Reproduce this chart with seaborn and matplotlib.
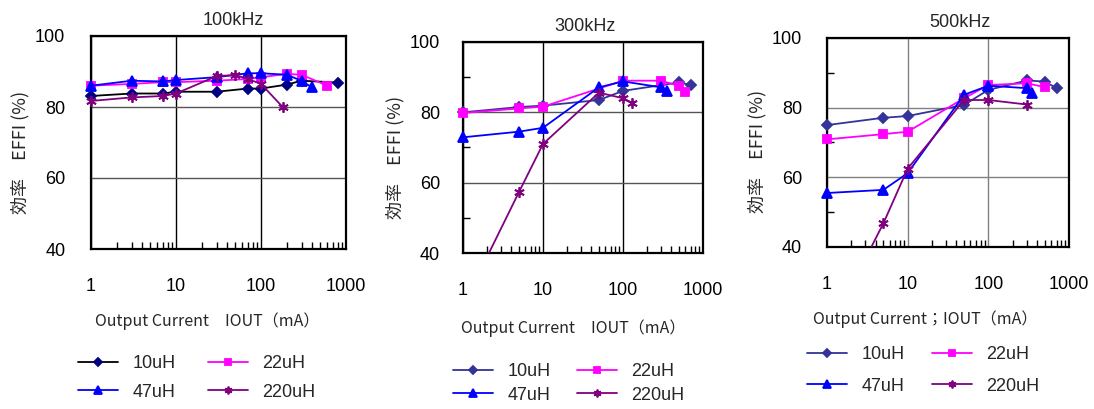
import numpy as np
import pandas as pd
import matplotlib
matplotlib.use('Agg')
import matplotlib.pyplot as plt
from matplotlib.ticker import FixedLocator, LogLocator, NullFormatter
import seaborn as sns

# ---- data ----
inductors = ['10uH', '22uH', '47uH', '220uH']
titles = ['100kHz', '300kHz', '500kHz']

# 100kHz
iout_100k_10uH = [1, 3, 7, 10, 30, 70, 100, 200, 300, 800]
eff_100k_10uH = [83.1, 83.8, 83.8, 84.3, 84.3, 85.2, 85.2, 86.3, 87.4, 86.9]
iout_100k_22uH = [1, 3, 7, 10, 30, 70, 100, 200, 300, 600]
eff_100k_22uH = [86.0, 86.5, 87.0, 87.0, 87.4, 87.9, 88.4, 89.3, 89.1, 86.0]
iout_100k_47uH = [1, 3, 7, 10, 30, 70, 100, 200, 300, 400]
eff_100k_47uH = [86.0, 87.4, 87.2, 87.6, 88.4, 89.5, 89.5, 89.1, 87.4, 85.5]
iout_100k_220uH = [1, 3, 7, 10, 30, 50, 70, 100, 180]
eff_100k_220uH = [81.7, 82.7, 83.1, 83.8, 88.7, 89.0, 87.9, 86.5, 80.0]

# 300kHz
iout_300k_10uH = [1, 5, 10, 50, 100, 500, 700]
eff_300k_10uH = [80.0, 81.5, 81.9, 83.5, 86.1, 88.5, 87.8]
iout_300k_22uH = [1, 5, 10, 100, 300, 500, 600]
eff_300k_22uH = [79.8, 81.1, 81.6, 89.0, 89.0, 87.5, 85.9]
iout_300k_47uH = [1, 5, 10, 50, 100, 300, 350]
eff_300k_47uH = [72.9, 74.5, 75.6, 87.1, 88.8, 87.1, 86.1]
iout_300k_220uH = [1, 5, 10, 50, 100, 130]
eff_300k_220uH = [25.0, 57.3, 71.0, 85.6, 84.0, 82.6]

# 500kHz
iout_500k_10uH = [1, 5, 10, 50, 100, 300, 500, 700]
eff_500k_10uH = [75.0, 77.1, 77.6, 80.8, 85.1, 87.8, 87.5, 85.6]
iout_500k_22uH = [1, 5, 10, 50, 100, 300, 500]
eff_500k_22uH = [70.9, 72.4, 73.1, 82.7, 86.5, 87.0, 85.9]
iout_500k_47uH = [1, 5, 10, 50, 100, 300, 350]
eff_500k_47uH = [55.5, 56.4, 61.2, 83.7, 86.3, 85.6, 84.3]
iout_500k_220uH = [1, 5, 10, 50, 100, 300]
eff_500k_220uH = [15.0, 46.8, 62.5, 82.2, 82.2, 80.9]

xticks = [1, 10, 100, 1000]
xtick_labels = ['1', '10', '100', '1000']
yticks = [40, 60, 80, 100]
xlabels = ['Output Current\u3000IOUT（mA）', 'Output Current\u3000IOUT（mA）',
           'Output Current；IOUT（mA）']
ylabel = '効率\u3000EFFI (%)'


def make_frame(series):
    rows = []
    for name, (xs, ys) in zip(inductors, series):
        for x, y in zip(xs, ys):
            rows.append({'IOUT': x, 'EFFI': y, 'L': name})
    return pd.DataFrame(rows)


frames = [
    make_frame([(iout_100k_10uH, eff_100k_10uH), (iout_100k_22uH, eff_100k_22uH),
                (iout_100k_47uH, eff_100k_47uH), (iout_100k_220uH, eff_100k_220uH)]),
    make_frame([(iout_300k_10uH, eff_300k_10uH), (iout_300k_22uH, eff_300k_22uH),
                (iout_300k_47uH, eff_300k_47uH), (iout_300k_220uH, eff_300k_220uH)]),
    make_frame([(iout_500k_10uH, eff_500k_10uH), (iout_500k_22uH, eff_500k_22uH),
                (iout_500k_47uH, eff_500k_47uH), (iout_500k_220uH, eff_500k_220uH)]),
]

# ---- styling ----
sns.set_theme(style='white')
plt.rcParams['font.family'] = ['Liberation Sans', 'Noto Sans CJK JP', 'DejaVu Sans']
JP = ['Noto Sans CJK JP', 'DejaVu Sans']

markers = {'10uH': 'D', '22uH': 's', '47uH': '^', '220uH': (6, 2, 0)}
msizes = {'10uH': 5.5, '22uH': 5.5, '47uH': 7, '220uH': 7.5}
mcolors = {'10uH': '#333399', '22uH': '#FF00FF', '47uH': '#0000FF', '220uH': '#800080'}

# axes rectangles in pixels: left, right, top, bottom
W, H = 1094, 409
rects = [(91, 346, 36, 249), (463, 703, 42, 253), (827, 1069, 38, 247)]
title_x = [0.56, 0.51, 0.55]
ypads = [18.5, 16.5, 18]
grid_colors = [('black', '#555555'), ('black', '#555555'), ('#808080', '#808080')]
xlabel_pos = [(0.455, -0.338), (0.458, -0.355), (0.405, -0.344)]
ylabel_pos = [(-0.278, 0.455), (-0.283, 0.455), (-0.289, 0.455)]
legend_pos = [(78, 378, 0.62, 1.8), (453, 383.5, 0.34, 1.5), (807, 370.5, 0.79, 1.55)]

fig = plt.figure(figsize=(W / 100, H / 100), dpi=100)

for i, df in enumerate(frames):
    l, r, t, b = rects[i]
    ax = fig.add_axes([l / W, (H - b) / H, (r - l) / W, (b - t) / H])
    ax.set_xscale('log')

    for name in inductors:
        sub = df[df['L'] == name]
        line_c = mcolors[name]
        mark_c = mcolors[name]
        if i == 0 and name == '10uH':
            line_c, mark_c = 'black', '#000080'
        # 220uH runs below the y range in the 300k/500k panels, so clip it there
        clip = name == '220uH' and i > 0
        sns.lineplot(data=sub, x='IOUT', y='EFFI', ax=ax, estimator=None, sort=False,
                     color=line_c, lw=1.3, marker=markers[name], markersize=msizes[name],
                     markerfacecolor=mark_c, markeredgecolor=mark_c,
                     markeredgewidth=1.3, label=name, legend=False, clip_on=clip, zorder=3)

    ax.set_xlim(1, 1000)
    ax.set_ylim(40, 100)
    ax.xaxis.set_major_locator(FixedLocator(xticks))
    ax.set_xticklabels(xtick_labels)
    ax.xaxis.set_minor_locator(LogLocator(base=10, subs=np.arange(2, 10)))
    ax.xaxis.set_minor_formatter(NullFormatter())
    ax.yaxis.set_major_locator(FixedLocator(yticks))
    if i > 0:
        ax.yaxis.set_minor_locator(FixedLocator([50, 70, 90]))
    ax.tick_params(axis='both', which='major', length=0, labelsize=13, colors='black')
    ax.tick_params(axis='x', which='major', pad=21)
    ax.tick_params(axis='y', which='major', pad=ypads[i])
    ax.tick_params(axis='both', which='minor', direction='in', length=5, width=1,
                   color='black', left=True, bottom=True)

    vc, hc = grid_colors[i]
    ax.grid(True, axis='x', which='major', color=vc, lw=1)
    ax.grid(True, axis='y', which='major', color=hc, lw=1)
    ax.set_axisbelow(True)
    for sp in ax.spines.values():
        sp.set_color('black')
        sp.set_linewidth(1.6)

    ax.set_title(titles[i], x=title_x[i], pad=8, fontsize=13)
    ax.set_xlabel(xlabels[i], family=JP, fontsize=11.5)
    ax.xaxis.set_label_coords(*xlabel_pos[i])
    ax.xaxis.label.set_va('center')
    ax.set_ylabel(ylabel, family=JP, fontsize=13)
    ax.yaxis.set_label_coords(*ylabel_pos[i])
    ax.yaxis.label.set_va('center')

    lines = ax.get_lines()
    handles = [lines[0], lines[2], lines[1], lines[3]]
    labels = [inductors[0], inductors[2], inductors[1], inductors[3]]
    lx, ly, lsp, csp = legend_pos[i]
    ax.legend(handles, labels, loc='center left', bbox_to_anchor=(lx / W, (H - ly) / H),
              bbox_transform=fig.transFigure, ncol=2, frameon=False, fontsize=13,
              borderpad=0, borderaxespad=0, handlelength=2.2, handletextpad=0.8,
              labelspacing=lsp, columnspacing=csp, markerscale=0.75)

fig.savefig('out.png', dpi=100)
